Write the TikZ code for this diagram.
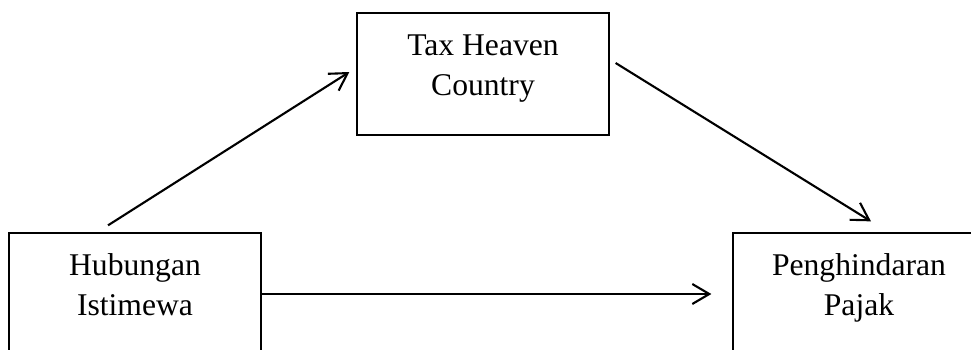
\documentclass[tikz,border=0pt]{standalone}
\usepackage{fontspec}
\setmainfont{Liberation Serif}
\usetikzlibrary{positioning, arrows.meta, calc}

\begin{document}
\begin{tikzpicture}[
    x=0.02cm, y=0.02cm,
    font=\fontsize{18}{22.68}\selectfont,
    varbox/.style={
        draw=black, line width=0.75pt, align=center,
        minimum width=5.04cm, minimum height=2.44cm,
        text height=1.3cm, text depth=0.45cm
    },
    linkarrow/.style={
        -{Straight Barb[length=3.4mm, width=4mm, line width=1.2pt]},
        line width=1.2pt, draw=black
    }
]
\useasboundingbox (0,0) rectangle (971,349);
\clip (0,0) rectangle (971,349);

% --- Hubungan Istimewa ---
\node[varbox] (hub) at (135, 55) {Hubungan\\Istimewa};

% --- Tax Heaven Country ---
\node[varbox] (tax) at (483, 275) {Tax Heaven\\Country};

% --- Penghindaran Pajak ---
\node[varbox] (pjk) at (859, 55) {Penghindaran\\Pajak};

% --- Arrows ---
\draw[linkarrow] ($(hub.north)+(-27,7)$) -- ($(tax.west)+(-7,2)$);
\draw[linkarrow] ($(tax.east)+(6,11)$) -- ($(pjk.north)+(12,11)$);
\draw[linkarrow] (hub.east) -- ($(pjk.west)+(-21,0)$);

\end{tikzpicture}
\end{document}
